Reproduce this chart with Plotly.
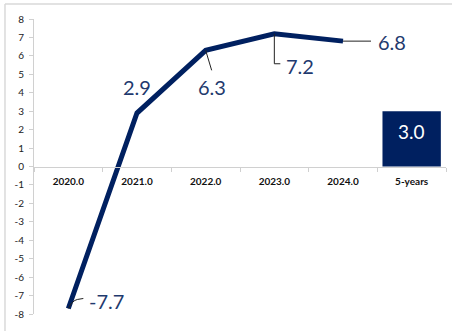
import plotly.graph_objects as go

# Annual growth series and the 5-year average
years = ["2020.0", "2021.0", "2022.0", "2023.0", "2024.0"]
growth = [-7.7, 2.9, 6.3, 7.2, 6.8]
avg_label = ["5-years"]
avg_value = [3.0]
categories = years + avg_label
y_ticks = list(range(-8, 9))

NAVY = "#002060"
LABEL = "#1f3a6e"
GRID = "#d0d0d0"
FONT = "Lato"

fig = go.Figure()

fig.add_trace(go.Bar(
    x=avg_label, y=avg_value, width=0.85,
    marker=dict(color=NAVY, line=dict(width=0)),
    hoverinfo="skip", showlegend=False,
))
fig.add_trace(go.Scatter(
    x=years, y=growth, mode="lines",
    line=dict(color=NAVY, width=5),
    hoverinfo="skip", showlegend=False,
))

# Value labels: (index, xanchor, xshift, yshift, leader path in px)
labels = [
    (0, "left", 19, 7, "M0,0 Q4,8 9,9 L15,10"),
    (1, "center", 0, 26, None),
    (2, "center", 6, -37, "M0,0 L6,-20"),
    (3, "left", 10, -32, "M0,0 L0,-30 L6,-30"),
    (4, "left", 33, -1, "M0,0 L28,0"),
]
for i, anchor, dx, dy, path in labels:
    val = growth[i]
    fig.add_annotation(
        x=i, y=val, xref="x", yref="y", text=f"{val:.1f}",
        showarrow=False, xanchor=anchor, yanchor="middle",
        xshift=dx, yshift=dy,
        font=dict(family=FONT, size=20, color=LABEL),
    )
    if path:
        fig.add_shape(
            type="path", xref="x", yref="y",
            xsizemode="pixel", ysizemode="pixel",
            xanchor=i, yanchor=val, path=path,
            line=dict(color="#222222", width=1),
        )

# Value inside the average bar
fig.add_annotation(
    x=categories.index(avg_label[0]), y=avg_value[0], xref="x", yref="y",
    text=f"{avg_value[0]:.1f}", showarrow=False,
    yanchor="middle", yshift=-20,
    font=dict(family=FONT, size=19, color="white"),
)

# Outer frame lines (left and top)
fig.add_shape(type="line", xref="paper", yref="paper",
              x0=-0.0704, x1=-0.0704, y0=1.0505, y1=-0.2,
              line=dict(color="#d9d9d9", width=1.5))
fig.add_shape(type="line", xref="paper", yref="paper",
              x0=-0.0704, x1=1.0146, y0=1.0505, y1=1.0505,
              line=dict(color="#d9d9d9", width=1.5))

fig.update_layout(
    width=457, height=331,
    margin=dict(l=34, r=11, t=19, b=15),
    paper_bgcolor="white", plot_bgcolor="white",
    font=dict(family=FONT, color="#333333"),
    xaxis=dict(
        type="category", categoryorder="array", categoryarray=categories,
        range=[-0.5, len(categories) - 0.5],
        anchor="free", position=0.5,
        showline=True, linecolor=GRID, linewidth=1,
        ticks="outside", tickson="boundaries", ticklen=4, tickcolor=GRID,
        tickvals=categories, ticktext=[f"<b>{c}</b>" for c in categories],
        tickfont=dict(family=FONT, size=10, color="#111111"),
        ticklabelstandoff=5,
        showgrid=False, zeroline=False,
    ),
    yaxis=dict(
        range=[-8, 8], tickvals=y_ticks, ticktext=[str(v) for v in y_ticks],
        showline=True, linecolor=GRID, linewidth=1,
        ticks="outside", ticklen=4, tickcolor=GRID,
        tickfont=dict(family=FONT, size=10, color="#222222"),
        ticklabelstandoff=3,
        showgrid=False, zeroline=False,
    ),
)

fig.write_html("out.html")
